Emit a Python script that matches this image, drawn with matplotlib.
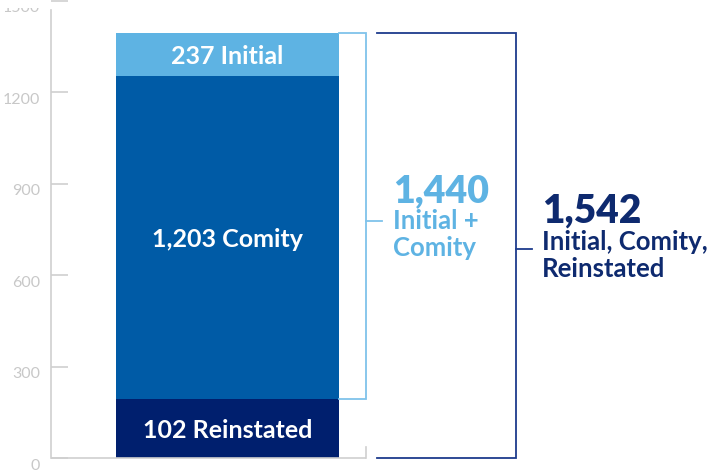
import matplotlib
matplotlib.use("Agg")
import matplotlib.pyplot as plt
from matplotlib.transforms import ScaledTranslation, Bbox

# ---- data ----
categories = ["Reinstated", "Comity", "Initial"]
counts = [102, 1203, 237]                 # values printed on the chart
drawn_heights = [194, 1061, 139]          # segment heights as drawn on the y scale
colors = ["#001F6E", "#005BA6", "#5EB3E3"]
label_texts = ["102 Reinstated", "1,203 Comity", "237 Initial"]
yticks = [0, 300, 600, 900, 1200, 1500]
sum_partial_label = "1,440"
sum_partial_text = ["Initial +", "Comity"]
sum_total_label = "1,542"
sum_total_text = ["Initial, Comity,", "Reinstated"]

FONT = ["Lato", "DejaVu Sans"]
plt.rcParams["font.family"] = FONT

W, H, DPI = 717, 475, 100
fig = plt.figure(figsize=(W / DPI, H / DPI), dpi=DPI)
ax_left_px, ax_bottom_px, ax_top_px = 51, 458.4, 0.8
ax = fig.add_axes([ax_left_px / W, (H - ax_bottom_px) / H,
                   (W - ax_left_px) / W, (ax_bottom_px - ax_top_px) / H])
ax.set_ylim(0, 1500)
ax.set_xlim(-0.7915, 2.195)

# stacked bar
b = 0
for h, c, t in zip(drawn_heights, colors, label_texts):
    ax.bar(0, h, width=1.0, bottom=b, color=c, linewidth=0)
    ax.text(0, b + h / 2, t, color="white", fontsize=18, fontweight="bold",
            ha="center", va="center_baseline")
    b += h
top = b

# axis styling
for s in ["top", "right", "bottom"]:
    ax.spines[s].set_visible(False)
gray = "#CFCFCF"
ax.spines["left"].set_color(gray)
ax.spines["left"].set_linewidth(1.2)
ax.spines["left"].set_bounds(0, 1470)
ax.set_xticks([])
ax.set_yticks(yticks)
ax.set_yticklabels([str(v) for v in yticks])
ax.tick_params(axis="y", direction="in", length=12.2, width=1.2, color=gray,
               labelcolor="#C8C8C8", labelsize=11.5, pad=8)
clip = Bbox.from_extents(0, 0, W, H - 8)
for lbl in ax.get_yticklabels():
    lbl.set_transform(lbl.get_transform() + ScaledTranslation(0, -6 / DPI, fig.dpi_scale_trans))
    lbl.set_clip_box(clip)
    lbl.set_clip_on(True)

# bottom baseline and small gray closing tick
x_light = 0.621
ax.plot([-0.7915, x_light], [0, 0], color=gray, lw=1.2, clip_on=False, solid_capstyle="butt")
ax.plot([x_light, x_light], [0, 36], color=gray, lw=1.2, clip_on=False)

# light bracket (Initial + Comity)
light_line = "#7FC3EB"
y0, y1 = drawn_heights[0], top
ax.plot([0.5, x_light, x_light, 0.5], [y1, y1, y0, y0], color=light_line, lw=1.3,
        clip_on=False, solid_joinstyle="miter")
ym = (y0 + y1) / 2 - 15
ax.plot([x_light, 0.693], [ym, ym], color=light_line, lw=1.3)
ax.text(0.742, 841, sum_partial_label, color="#5EB3E3", fontsize=27,
        fontweight="heavy", ha="left", va="baseline")
ax.text(0.742, 752, sum_partial_text[0], color="#5EB3E3", fontsize=18.5,
        fontweight="bold", ha="left", va="baseline")
ax.text(0.742, 664, sum_partial_text[1], color="#5EB3E3", fontsize=18.5,
        fontweight="bold", ha="left", va="baseline")

# dark bracket (total)
dark_line = "#1E3C8C"
x_dark = 1.294
ax.plot([0.670, x_dark, x_dark, 0.670], [top, top, 0, 0], color=dark_line, lw=1.3,
        clip_on=False, solid_joinstyle="miter")
ymd = top / 2 - 12
ax.plot([x_dark, 1.365], [ymd, ymd], color=dark_line, lw=1.3)
ax.text(1.409, 773, sum_total_label, color="#0E2A6F", fontsize=28,
        fontweight="heavy", ha="left", va="baseline")
ax.text(1.409, 683, sum_total_text[0], color="#0E2A6F", fontsize=18.5,
        fontweight="bold", ha="left", va="baseline")
ax.text(1.409, 596, sum_total_text[1], color="#0E2A6F", fontsize=18.5,
        fontweight="bold", ha="left", va="baseline")

fig.savefig("out.png", dpi=DPI)
